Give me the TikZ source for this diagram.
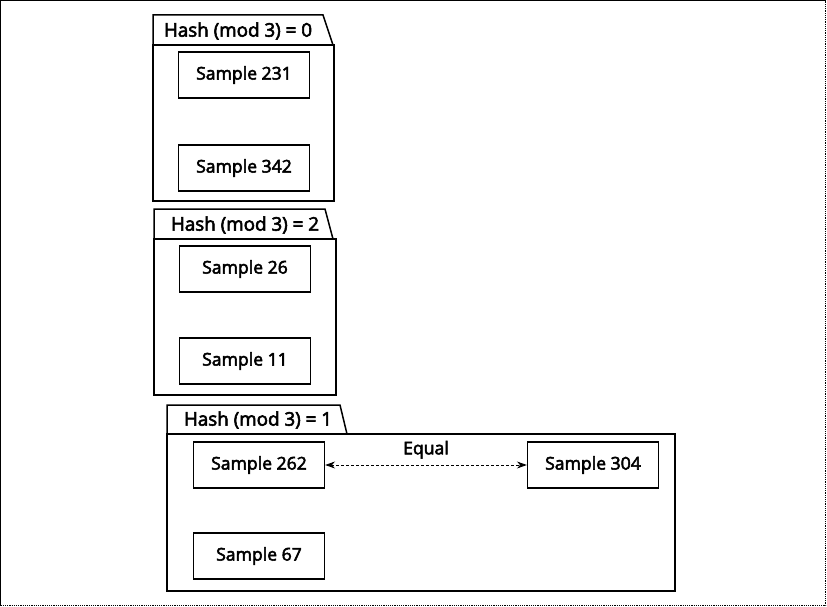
\documentclass[tikz,border=0pt]{standalone}
\usepackage{fontspec}
\setmainfont{Open Sans}
\newfontfamily\semib{Open Sans}[FakeBold=3]
\usetikzlibrary{arrows.meta}
\begin{document}
\begin{tikzpicture}[x=1pt,y=-1pt,
  sample/.style={draw=black,line width=1.2pt,minimum width=131pt,minimum height=46pt,inner sep=0pt,font=\semib\fontsize{17.6}{20}\selectfont},
  pkg/.style={draw=black,line width=1.5pt},
  tablabel/.style={font=\semib\fontsize{18.8}{21}\selectfont,inner sep=0pt,anchor=center},
  eqarrow/.style={densely dashed,line width=0.9pt,{Stealth[length=10pt,width=7pt]}-{Stealth[length=10pt,width=7pt]}}]
\useasboundingbox (0,0) rectangle (827,607);
% outer frame
\draw[line width=1.2pt] (0.6,606) -- (0.6,0.6) -- (826,0.6);
\draw[line width=1.2pt,densely dotted] (0.6,605.5) -- (825.8,605.5) -- (825.8,0.6);
% package 0
\draw[pkg] (153,45) -- (153,15) -- (323,15) -- (333,45);
\draw[pkg] (153,45) rectangle (334,201);
\node[tablabel] (t0) at (238,31) {Hash (mod 3) = 0};
\node[sample] (s231) at (244,75) {Sample 231};
\node[sample] (s342) at (244,168) {Sample 342};
% package 2
\draw[pkg] (154,239) -- (154,209) -- (325,209) -- (333,239);
\draw[pkg] (154,239) rectangle (336,395);
\node[tablabel] (t2) at (245,225) {Hash (mod 3) = 2};
\node[sample] (s26) at (245,269) {Sample 26};
\node[sample] (s11) at (245,361) {Sample 11};
% package 1
\draw[pkg] (167,434) -- (167,405) -- (340,405) -- (347,434);
\draw[pkg] (167,434) rectangle (675,591);
\node[tablabel] (t1) at (258,420) {Hash (mod 3) = 1};
\node[sample] (s262) at (259,465) {Sample 262};
\node[sample] (s304) at (593,465) {Sample 304};
\node[sample] (s67) at (259,556) {Sample 67};
\draw[eqarrow] (s262.east) -- node[above=6pt,font=\semib\fontsize{17.6}{20}\selectfont,inner sep=0pt] (eq) {Equal} (s304.west);
\end{tikzpicture}
\end{document}
